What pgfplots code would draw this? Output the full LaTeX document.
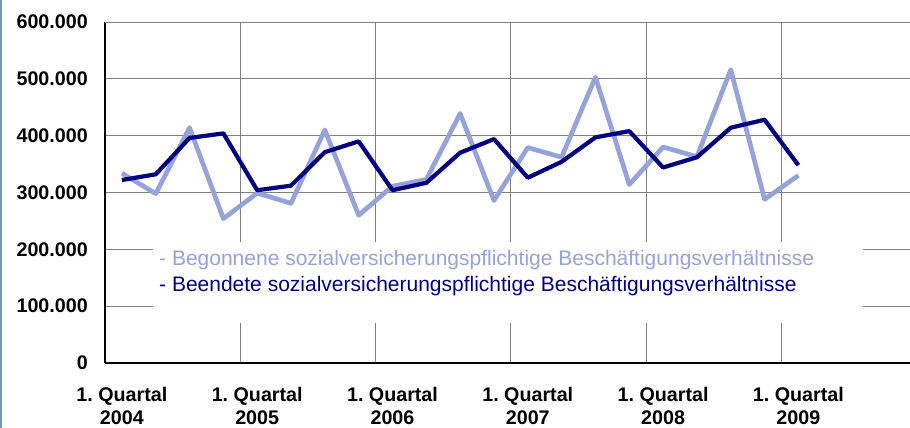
\documentclass[border=0pt]{standalone}
\usepackage{pgfplots}
\pgfplotsset{compat=1.18}
\usepackage{fontspec}
\setmainfont{Liberation Sans}
\definecolor{dark}{RGB}{0,0,128}
\definecolor{light}{RGB}{150,163,218}
\definecolor{gridc}{RGB}{128,128,128}
\definecolor{frame}{RGB}{120,150,190}
\frenchspacing
\begin{document}
\begin{tikzpicture}[x=1pt,y=1pt]
\path[use as bounding box, clip] (0,0) rectangle (910,428);
\begin{axis}[
  at={(105pt,65pt)}, anchor=south west,
  scale only axis, width=805pt, height=341pt,
  xmin=0, xmax=23.8, ymin=0, ymax=600000,
  axis lines=left, axis line style={black, line width=1.3pt, -},
  xtick={0.5,4.5,8.5,12.5,16.5,20.5},
  xticklabels={{1.\ Quartal\\2004},{1.\ Quartal\\2005},{1.\ Quartal\\2006},{1.\ Quartal\\2007},{1.\ Quartal\\2008},{1.\ Quartal\\2009}},
  minor xtick={4,8,12,16,20,24},
  xminorgrids=true,
  minor x grid style={gridc, line width=0.9pt},
  ytick={0,100000,200000,300000,400000,500000,600000},
  yticklabels={0,100.000,200.000,300.000,400.000,500.000,600.000},
  ymajorgrids=true,
  major y grid style={gridc, line width=0.9pt},
  extra y ticks={600000}, extra y tick labels={},
  extra y tick style={grid style={black!85, line width=1.3pt}},
  major tick length=0pt, minor tick length=0pt,
  scaled y ticks=false,
  tick label style={font=\fontsize{19.7}{23.5}\selectfont\bfseries},
  xticklabel style={align=center, anchor=north, inner sep=0pt, yshift=-24pt},
  yticklabel style={anchor=east, inner sep=0pt, xshift=-17pt},
  legend image code/.code={},
  legend cell align=left,
  legend style={at={(0.0671,0.3343)}, anchor=north west, draw=none, fill=none,
    inner sep=0pt, row sep=5.7pt,
    font=\fontsize{21}{26}\selectfont,
    nodes={inner sep=0pt, text height=16pt, text depth=5pt}},
]
\fill[white] (axis description cs:0.0596,0.1173) rectangle (axis description cs:0.9416,0.3548);
\addplot[light, line width=4.7pt, line join=round] coordinates {
(0.5,334000) (1.5,298000) (2.5,414000) (3.5,254000)
(4.5,299000) (5.5,281000) (6.5,410000) (7.5,260000)
(8.5,311000) (9.5,323000) (10.5,439000) (11.5,286000)
(12.5,379000) (13.5,362000) (14.5,503000) (15.5,314000)
(16.5,380000) (17.5,363000) (18.5,516000) (19.5,288000)
(20.5,330000)};
\addlegendentry{\textcolor{light}{- Begonnene sozialversicherungspflichtige Beschäftigungsverhältnisse}}
\addplot[dark, line width=4.2pt, line join=round] coordinates {
(0.5,322000) (1.5,332000) (2.5,396000) (3.5,404000)
(4.5,304000) (5.5,312000) (6.5,371000) (7.5,390000)
(8.5,304000) (9.5,317000) (10.5,370000) (11.5,394000)
(12.5,326000) (13.5,354000) (14.5,397000) (15.5,408000)
(16.5,344000) (17.5,362000) (18.5,414000) (19.5,428000)
(20.5,348000)};
\addlegendentry{\textcolor{dark}{- Beendete sozialversicherungspflichtige Beschäftigungsverhältnisse}}
\end{axis}
\draw[frame, line width=1.5pt] (1,0) -- (1,428);
\end{tikzpicture}
\end{document}
